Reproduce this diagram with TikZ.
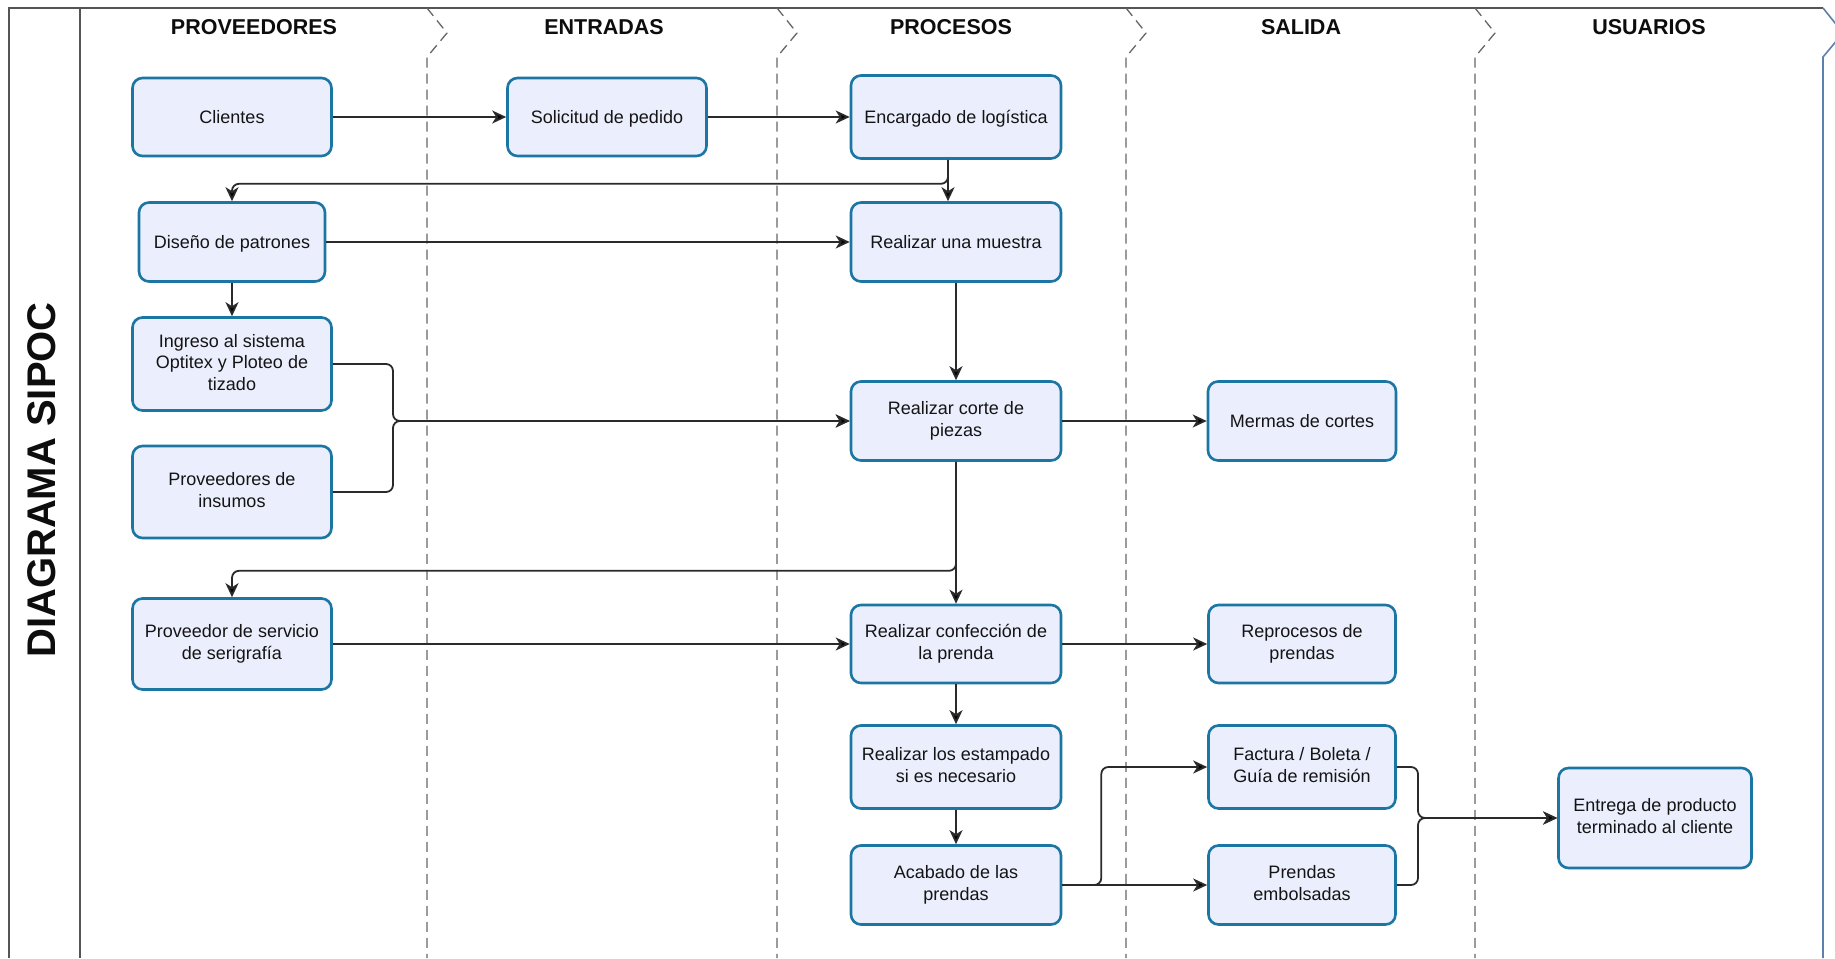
\documentclass[tikz,border=0pt]{standalone}
\usepackage{fontspec}
\setmainfont{Liberation Sans}
\usetikzlibrary{arrows.meta}
\definecolor{boxline}{HTML}{1B76A3}
\definecolor{boxfill}{HTML}{EBEEFC}
\definecolor{wire}{HTML}{2A2A2A}
\definecolor{frame}{HTML}{555555}
\definecolor{lane}{HTML}{666666}
\definecolor{edge}{HTML}{5F7FAE}
\begin{document}
\begin{tikzpicture}[x=1pt,y=-1pt,
  box/.style={draw=boxline, fill=boxfill, line width=2.6pt, rounded corners=10pt,
    align=center, inner sep=3pt, text=black!92,
    font=\fontsize{18}{21.5}\selectfont,
    execute at begin node={\rule[-4pt]{0pt}{21.5pt}},
    execute at end node={\rule[-4pt]{0pt}{4pt}}},
  head/.style={font=\bfseries\fontsize{21.5}{24}\selectfont, text=black!95},
  wireline/.style={draw=wire, line width=1.8pt, rounded corners=7pt},
  arr/.style={wireline, -{Stealth[length=14pt,width=13pt,inset=4pt,fill=black]}},
  laneline/.style={draw=lane, line width=1.3pt, dash pattern=on 10pt off 6pt},
]
\useasboundingbox (0,0) rectangle (1835,958);
\fill[white] (0,0) rectangle (1835,958);

% frame and title column
\draw[frame, line width=1.6pt] (9,958) -- (9,8) -- (1823,8);
\draw[frame, line width=1.6pt] (80,8) -- (80,958);
\draw[edge, line width=1.6pt] (1823,8) -- (1843,33) -- (1823,57) -- (1823,958);
\node[rotate=90, font=\bfseries\fontsize{40}{44}\selectfont, text=black!95] (title) at (42,480) {DIAGRAMA SIPOC};

% lane separators with chevrons
\foreach \lx in {427,777,1126,1475}{
  \draw[laneline] (\lx,8) -- (\lx+20,33) -- (\lx,57) -- (\lx,958);
}

% lane headers
\node[head] (hP) at (254,27) {PROVEEDORES};
\node[head] (hE) at (604,27) {ENTRADAS};
\node[head] (hR) at (951,27) {PROCESOS};
\node[head] (hS) at (1301,27) {SALIDA};
\node[head] (hU) at (1649,27) {USUARIOS};

% process boxes
\node[box, minimum width=199pt, minimum height=78pt] (cli) at (232,117) {Clientes};
\node[box, minimum width=199pt, minimum height=78pt] (sol) at (607,117) {Solicitud de pedido};
\node[box, minimum width=210pt, minimum height=83pt] (enc) at (956,117) {Encargado de logística};
\node[box, minimum width=186pt, minimum height=79pt] (dis) at (232,242) {Diseño de patrones};
\node[box, minimum width=210pt, minimum height=79pt] (mue) at (956,242) {Realizar una muestra};
\node[box, minimum width=199pt, minimum height=93pt] (ing) at (232,364) {Ingreso al sistema\\Optitex y Ploteo de\\tizado};
\node[box, minimum width=199pt, minimum height=92pt] (ins) at (232,492) {Proveedores de\\insumos};
\node[box, minimum width=210pt, minimum height=79pt] (cor) at (956,421) {Realizar corte de\\piezas};
\node[box, minimum width=188pt, minimum height=79pt] (mer) at (1302,421) {Mermas de cortes};
\node[box, minimum width=199pt, minimum height=91pt] (ser) at (232,644) {Proveedor de servicio\\de serigrafía};
\node[box, minimum width=210pt, minimum height=78pt] (con) at (956,644) {Realizar confección de\\la prenda};
\node[box, minimum width=187pt, minimum height=78pt] (rep) at (1302,644) {Reprocesos de\\prendas};
\node[box, minimum width=210pt, minimum height=83pt] (est) at (956,767) {Realizar los estampado\\si es necesario};
\node[box, minimum width=187pt, minimum height=83pt] (fac) at (1302,767) {Factura / Boleta /\\Guía de remisión};
\node[box, minimum width=210pt, minimum height=79pt] (aca) at (956,885) {Acabado de las\\prendas};
\node[box, minimum width=187pt, minimum height=79pt] (emb) at (1302,885) {Prendas\\embolsadas};
\node[box, minimum width=193pt, minimum height=100pt] (ent) at (1655,818) {Entrega de producto\\terminado al cliente};

% junction points
\coordinate (encout) at ([xshift=-8pt]enc.south);
\coordinate (j1) at (393,421);
\coordinate (j2) at (1418,818);

% connectors
\draw[arr] (cli) -- (sol);
\draw[arr] (sol) -- (enc);
\draw[arr] (encout) -- (encout |- mue.north);
\draw[arr] (encout) -- ++(0,24) -| (dis.north);
\draw[arr] (dis) -- (mue);
\draw[arr] (dis) -- (ing);
\draw[arr] (mue) -- (cor);
\draw[arr] (ing.east) -| (j1) -- (cor.west);
\draw[arr] (ins.east) -| (j1) -- (cor.west);
\draw[arr] (cor) -- (mer);
\draw[arr] (cor) -- (con);
\draw[arr] (cor.south) -- ++(0,109) -| (ser.north);
\draw[arr] (ser) -- (con);
\draw[arr] (con) -- (rep);
\draw[arr] (con) -- (est);
\draw[arr] (est) -- (aca);
\draw[arr] (aca.east) -- ++(39,0) |- (fac.west);
\draw[arr] (aca) -- (emb);
\draw[arr] (fac.east) -| (j2) -- (ent.west);
\draw[arr] (emb.east) -| (j2) -- (ent.west);
\end{tikzpicture}
\end{document}
